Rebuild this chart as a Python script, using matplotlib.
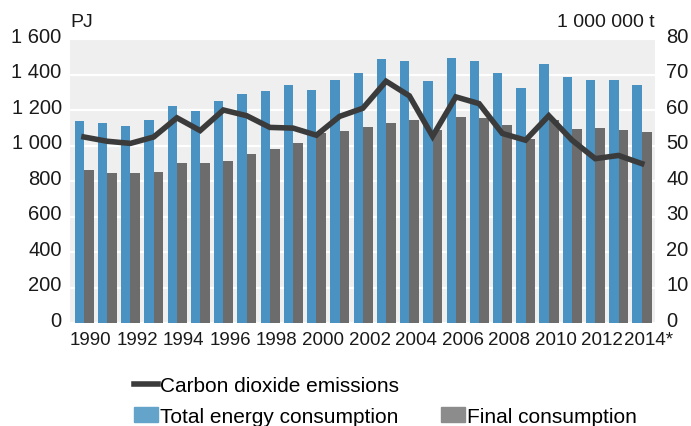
import matplotlib
matplotlib.use("Agg")
import matplotlib.pyplot as plt
import matplotlib.transforms as mtransforms
from matplotlib.lines import Line2D
from matplotlib.patches import Patch
from matplotlib.ticker import FuncFormatter

plt.rcParams['font.family'] = ['Liberation Sans', 'DejaVu Sans']

years = list(range(1990, 2015))
total_energy = [1137, 1124, 1112, 1144, 1223, 1197, 1253, 1290, 1309, 1339,
                1315, 1371, 1406, 1486, 1474, 1363, 1492, 1474, 1406, 1326,
                1462, 1387, 1369, 1369, 1339]
final_consumption = [861, 843, 843, 848, 904, 899, 910, 953, 983, 1015,
                     1068, 1083, 1107, 1124, 1142, 1090, 1161, 1155, 1118, 1039,
                     1145, 1095, 1101, 1088, 1075]
co2_emissions = [52.4, 51.2, 50.6, 52.4, 57.8, 54.2, 60.0, 58.4, 55.1, 54.9,
                 52.9, 58.2, 60.5, 68.1, 64.0, 52.6, 63.7, 61.8, 53.4, 51.5,
                 58.4, 51.5, 46.3, 47.2, 44.9]
tick_years = list(range(1990, 2015, 2))
tick_labels = [str(y) for y in tick_years[:-1]] + ['2014*']

blue = '#4a92c2'
grey = '#6c6c6c'
dark = '#3b3b3b'

fig = plt.figure(figsize=(6.91, 4.27), dpi=100)
ax = fig.add_axes([0.1013, 0.2412, 0.8466, 0.6651])
ax.set_facecolor('#efefef')

ax.bar(years, total_energy, width=-0.4, align='edge', color=blue, zorder=2)
ax.bar(years, final_consumption, width=0.42, align='edge', color=grey, zorder=2)
ax.set_ylim(0, 1600)
ax.set_xlim(1989.4, 2014.57)
ax.set_yticks(range(0, 1601, 200))
ax.yaxis.set_major_formatter(FuncFormatter(lambda v, p: f'{int(v):,}'.replace(',', ' ')))
ax.grid(axis='y', color='white', linewidth=1.6, zorder=1)
ax.set_axisbelow(True)

ax2 = ax.twinx()
ax2.plot(years, co2_emissions, color=dark, linewidth=4, solid_joinstyle='miter', zorder=3)
ax2.set_ylim(0, 80)
ax2.set_yticks(range(0, 81, 10))

ax.set_xticks(tick_years)
ax.set_xticklabels(tick_labels)

for a in (ax, ax2):
    for s in a.spines.values():
        s.set_visible(False)
    a.tick_params(length=0, labelsize=14.5, colors='#1a1a1a')
ax.tick_params(axis='y', pad=6)
ax2.tick_params(axis='y', pad=8)
ax.tick_params(axis='x', labelsize=13.5, pad=6)

up = mtransforms.ScaledTranslation(0, 3.5 / 72, fig.dpi_scale_trans)
for lab in ax.get_yticklabels() + ax2.get_yticklabels():
    lab.set_transform(lab.get_transform() + up)
right = mtransforms.ScaledTranslation(5 / 72, 0, fig.dpi_scale_trans)
for lab in ax.get_xticklabels():
    lab.set_transform(lab.get_transform() + right)

ax.text(0.0, 1.03, 'PJ', transform=ax.transAxes, ha='left', va='bottom',
        fontsize=14, color='#1a1a1a')
ax.text(1.0, 1.03, '1 000 000 t', transform=ax.transAxes, ha='right', va='bottom',
        fontsize=14, color='#1a1a1a')

handles = [Line2D([], [], color=dark, linewidth=4),
           Patch(color='#64a3ca'),
           Line2D([], [], linestyle='none'),
           Patch(color='#8c8c8c')]
labels = ['Carbon dioxide emissions', 'Total energy consumption', '', 'Final consumption']
fig.legend(handles, labels, ncol=2, loc='upper left', bbox_to_anchor=(134 / 691, 0.116),
           frameon=False, fontsize=15, handlelength=1.15, handleheight=0.72,
           handletextpad=0.1, columnspacing=2.0, labelspacing=0.55,
           borderpad=0, borderaxespad=0)

fig.savefig('out.png', dpi=100)
